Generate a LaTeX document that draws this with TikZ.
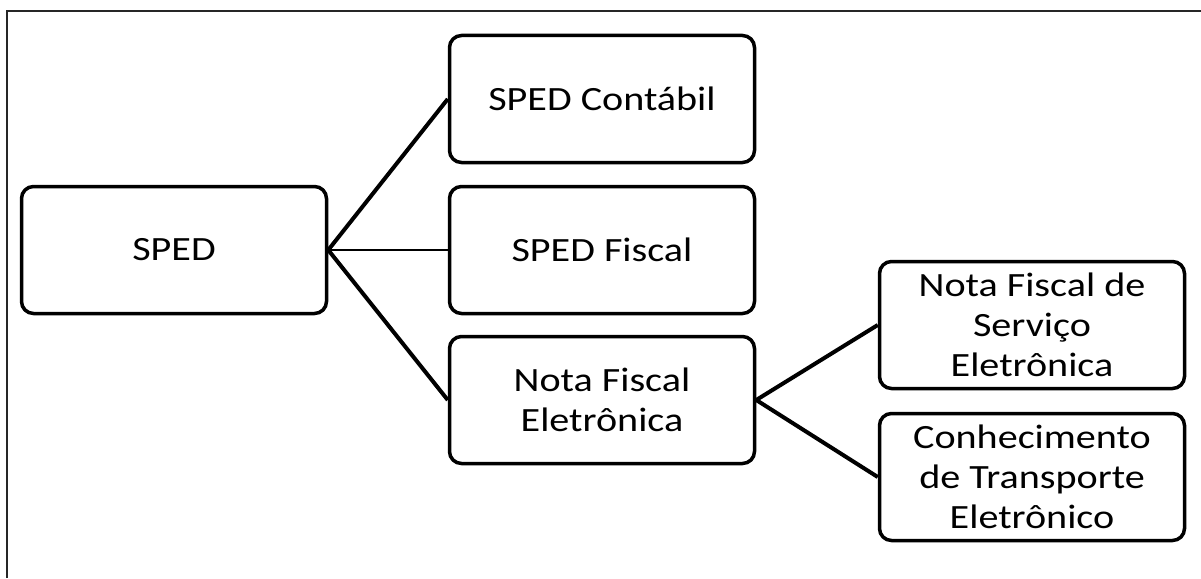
\documentclass[tikz,border=0pt]{standalone}
\usepackage{fontspec}
\usepackage{tikz}

\newfontfamily\boxfont[FakeStretch=1.18]{Carlito}

\begin{document}
\begin{tikzpicture}[x=1pt,y=-1pt,
    spedbox/.style={draw, line width=3.5pt, rounded corners=12pt,
      minimum width=305pt, minimum height=127pt, align=center,
      inner sep=2pt, font={\boxfont\fontsize{34}{40}\selectfont}},
    link/.style={line width=4pt},
    thinlink/.style={line width=2pt}]
    \useasboundingbox (0,0) rectangle (1201,578);

    % draw outer frame
    \draw[line width=2pt, black!85] (7,578) |- (1201,11);

    % draw boxes
    \node[spedbox] (sped) at (174,250) {SPED};
    \node[spedbox] (contabil) at (602,99) {SPED Contábil};
    \node[spedbox] (fiscal) at (602,250) {SPED Fiscal};
    \node[spedbox] (nfe) at (602,400) {Nota Fiscal\\Eletrônica};
    \node[spedbox] (nfse) at (1032,325) {Nota Fiscal de\\Serviço\\Eletrônica};
    \node[spedbox] (cte) at (1032,477) {Conhecimento\\de Transporte\\Eletrônico};

    % draw connectors
    \draw[link] (sped.east) -- (contabil.west);
    \draw[thinlink] (sped.east) -- (fiscal.west);
    \draw[link] (sped.east) -- (nfe.west);
    \foreach \n in {nfse,cte}
      \draw[link] (nfe.east) -- (\n.west);

\end{tikzpicture}
\end{document}
